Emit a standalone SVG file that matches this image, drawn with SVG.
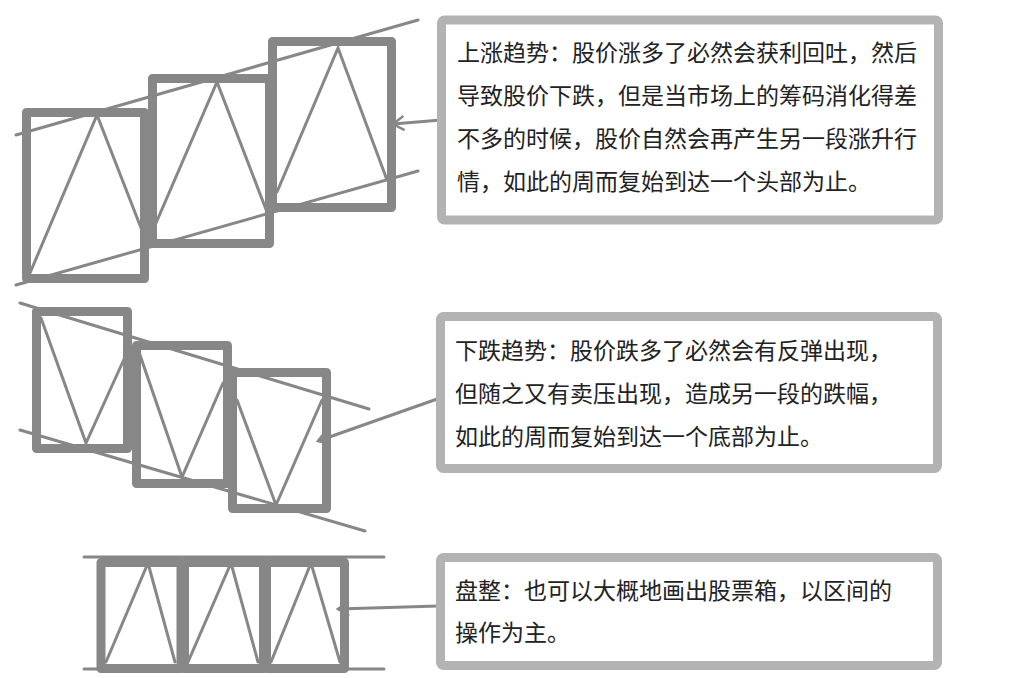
<svg xmlns="http://www.w3.org/2000/svg" width="1030" height="678" viewBox="0 0 1030 678">
<style>
.bx{fill:none;stroke:#878787;stroke-width:9;stroke-linejoin:round}
.ln{fill:none;stroke:#878787;stroke-width:3;stroke-linecap:round;stroke-linejoin:miter}
.tb{fill:#fff;stroke:#b3b3b3;stroke-width:9;stroke-linejoin:round}
.tx{font-family:"Noto Sans CJK SC","Noto Sans CJK JP",sans-serif;font-size:23px;fill:#222}
.ar{fill:none;stroke:#878787;stroke-width:3;marker-end:url(#chev)}
</style>
<defs>
<marker id="chev" markerUnits="userSpaceOnUse" viewBox="-14 -9 16 18" refX="0" refY="0" markerWidth="16" markerHeight="18" orient="auto">
<path d="M-11,-7 L0,0 L-11,7" fill="none" stroke="#878787" stroke-width="2.5"/>
</marker>
</defs>
<rect width="1030" height="678" fill="#fff"/>

<g id="uptrend-chart">
<rect class="bx" x="26.5" y="112.5" width="118" height="166"/>
<rect class="bx" x="152.5" y="78.5" width="117" height="165"/>
<rect class="bx" x="272.5" y="41.5" width="119" height="166"/>
<polyline class="ln" points="30,273 97,115 143,233"/>
<polyline class="ln" points="153,230 217,82 267,212"/>
<polyline class="ln" points="277,192 338,48 387,180"/>
<line class="ln" x1="16" y1="135" x2="418" y2="20"/>
<line class="ln" x1="16" y1="285" x2="418" y2="171"/>
</g>

<g id="downtrend-chart">
<rect class="bx" x="36.5" y="311.5" width="91" height="137"/>
<rect class="bx" x="136.5" y="345.5" width="91" height="138"/>
<rect class="bx" x="232.5" y="372.5" width="94" height="136"/>
<polyline class="ln" points="41,318 86,443 125,357"/>
<polyline class="ln" points="140,355 182,477 223,383"/>
<polyline class="ln" points="237,400 276,505 322,400"/>
<line class="ln" x1="20" y1="303" x2="369" y2="409"/>
<line class="ln" x1="20" y1="430" x2="365" y2="531"/>
</g>

<g id="range-chart">
<rect class="bx" x="101" y="562.5" width="80" height="106"/>
<rect class="bx" x="184.5" y="562.5" width="79" height="106"/>
<rect class="bx" x="266.5" y="562.5" width="78" height="106"/>
<polyline class="ln" points="106,662 148,563 175,662"/>
<polyline class="ln" points="188,662 231,563 258,662"/>
<polyline class="ln" points="271,662 311,563 340,662"/>
<line class="ln" x1="84" y1="557" x2="384" y2="557"/>
<line class="ln" x1="84" y1="669" x2="384" y2="669"/>
</g>

<g id="connectors">
<path class="ar" d="M441,120 L393,124"/>
<path class="ar" d="M440,398 L318,441"/>
<path class="ar" d="M438,606 L338,609"/>
</g>

<g id="note-uptrend">
<rect class="tb" x="441.5" y="20" width="497" height="200" rx="3"/>
<text class="tx" x="457" y="61">上涨趋势：股价涨多了必然会获利回吐，然后</text>
<text class="tx" x="457" y="104">导致股价下跌，但是当市场上的筹码消化得差</text>
<text class="tx" x="457" y="147">不多的时候，股价自然会再产生另一段涨升行</text>
<text class="tx" x="457" y="190">情，如此的周而复始到达一个头部为止。</text>
</g>

<g id="note-downtrend">
<rect class="tb" x="440.5" y="316.5" width="497" height="152" rx="3"/>
<text class="tx" x="455" y="359">下跌趋势：股价跌多了必然会有反弹出现，</text>
<text class="tx" x="455" y="402">但随之又有卖压出现，造成另一段的跌幅，</text>
<text class="tx" x="455" y="445">如此的周而复始到达一个底部为止。</text>
</g>

<g id="note-range">
<rect class="tb" x="440.5" y="557.5" width="497" height="108" rx="3"/>
<text class="tx" x="455" y="599">盘整：也可以大概地画出股票箱，以区间的</text>
<text class="tx" x="455" y="641">操作为主。</text>
</g>
</svg>
